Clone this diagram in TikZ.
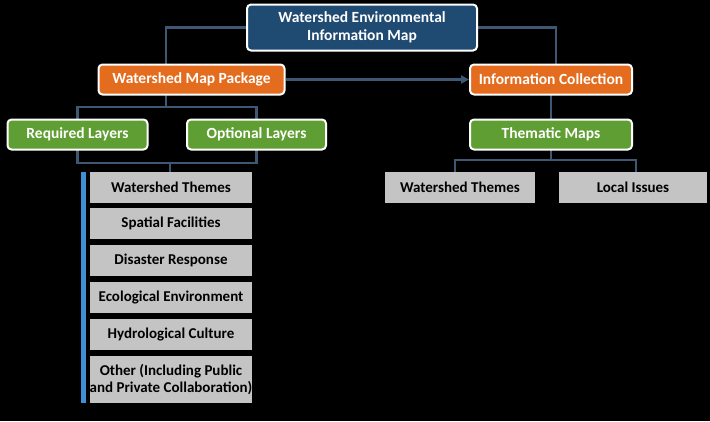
\documentclass[tikz,border=0pt]{standalone}
\usepackage{fontspec}
\setmainfont{Carlito}
\usetikzlibrary{arrows.meta}
\definecolor{navy}{HTML}{1F4A72}
\definecolor{orng}{HTML}{E46C1F}
\definecolor{grn}{HTML}{5E9E32}
\definecolor{gry}{HTML}{C4C4C4}
\definecolor{wire}{HTML}{3E5873}
\definecolor{bar}{HTML}{3F8FD6}
\tikzset{
	box/.style={draw=white,line width=2pt,rounded corners=4pt,text=white,font=\bfseries\fontsize{15.5}{18}\selectfont,align=center,inner sep=0pt},
	topbox/.style={box,fill=navy,minimum width=230pt,minimum height=46pt},
	pkg/.style={box,fill=orng,minimum width=186pt,minimum height=30pt},
	lay/.style={box,fill=grn,minimum width=140pt,minimum height=30pt},
	item/.style={fill=gry,text=black,font=\bfseries\fontsize{15}{17}\selectfont,align=center,inner sep=0pt,minimum width=162pt,minimum height=31pt},
	wire/.style={draw=wire,line width=2.5pt}
}
\begin{document}
\begin{tikzpicture}[x=1pt,y=-1pt]
	\fill[black] (0,0) rectangle (710,421);
	\useasboundingbox (0,0) rectangle (710,421);
	
	%connectors
	\draw[wire] (300,27.5) -| (166,64);
	\draw[wire] (420,27.5) -| (556,64);
	\draw[wire] (166,95) -- (166,107);
	\draw[wire] (77.5,125) |- (166,107) -| (256.5,125);
	\draw[wire] (77.5,140) |- (170,163) -| (256.5,140);
	\draw[wire] (170,163) -- (170,175);
	\draw[wire] (551,90) -- (551,125);
	\draw[wire] (551,140) -- (551,160);
	\draw[wire] (455,175) |- (551,160) -| (636,175);
	
	%boxes
	\node[topbox] (top) at (362,27.5) {Watershed Environmental\\Information Map};
	\node[pkg] (mpk) at (191.5,79.5) {Watershed Map Package};
	\node[pkg,minimum width=162pt] (inf) at (551,79.5) {Information Collection};
	\node[lay] (req) at (77.5,134.5) {Required Layers};
	\node[lay,minimum width=139pt] (opt) at (256.5,134.5) {Optional Layers};
	\node[lay,minimum width=162pt] (thm) at (551,134.5) {Thematic Maps};
	\node[item,minimum width=150pt] (wsr) at (460,187.5) {Watershed Themes};
	\node[item,minimum width=148pt] (loc) at (633,187.5) {Local Issues};
	\draw[wire,-{Triangle[length=8pt,width=8pt]}] (mpk.east) -- (inf.west);
	
	%left list
	\fill[bar] (81,172) rectangle (86,403);
	\node[item] (l1) at (171,187) {Watershed Themes};
	\node[item] (l2) at (171,223.5) {Spatial Facilities};
	\node[item] (l3) at (171,260.5) {Disaster Response};
	\node[item] (l4) at (171,297.5) {Ecological Environment};
	\node[item] (l5) at (171,334.5) {Hydrological Culture};
	\node[item,minimum height=47pt] (l6) at (171,379.5) {Other (Including Public\\and Private Collaboration)};
\end{tikzpicture}
\end{document}
